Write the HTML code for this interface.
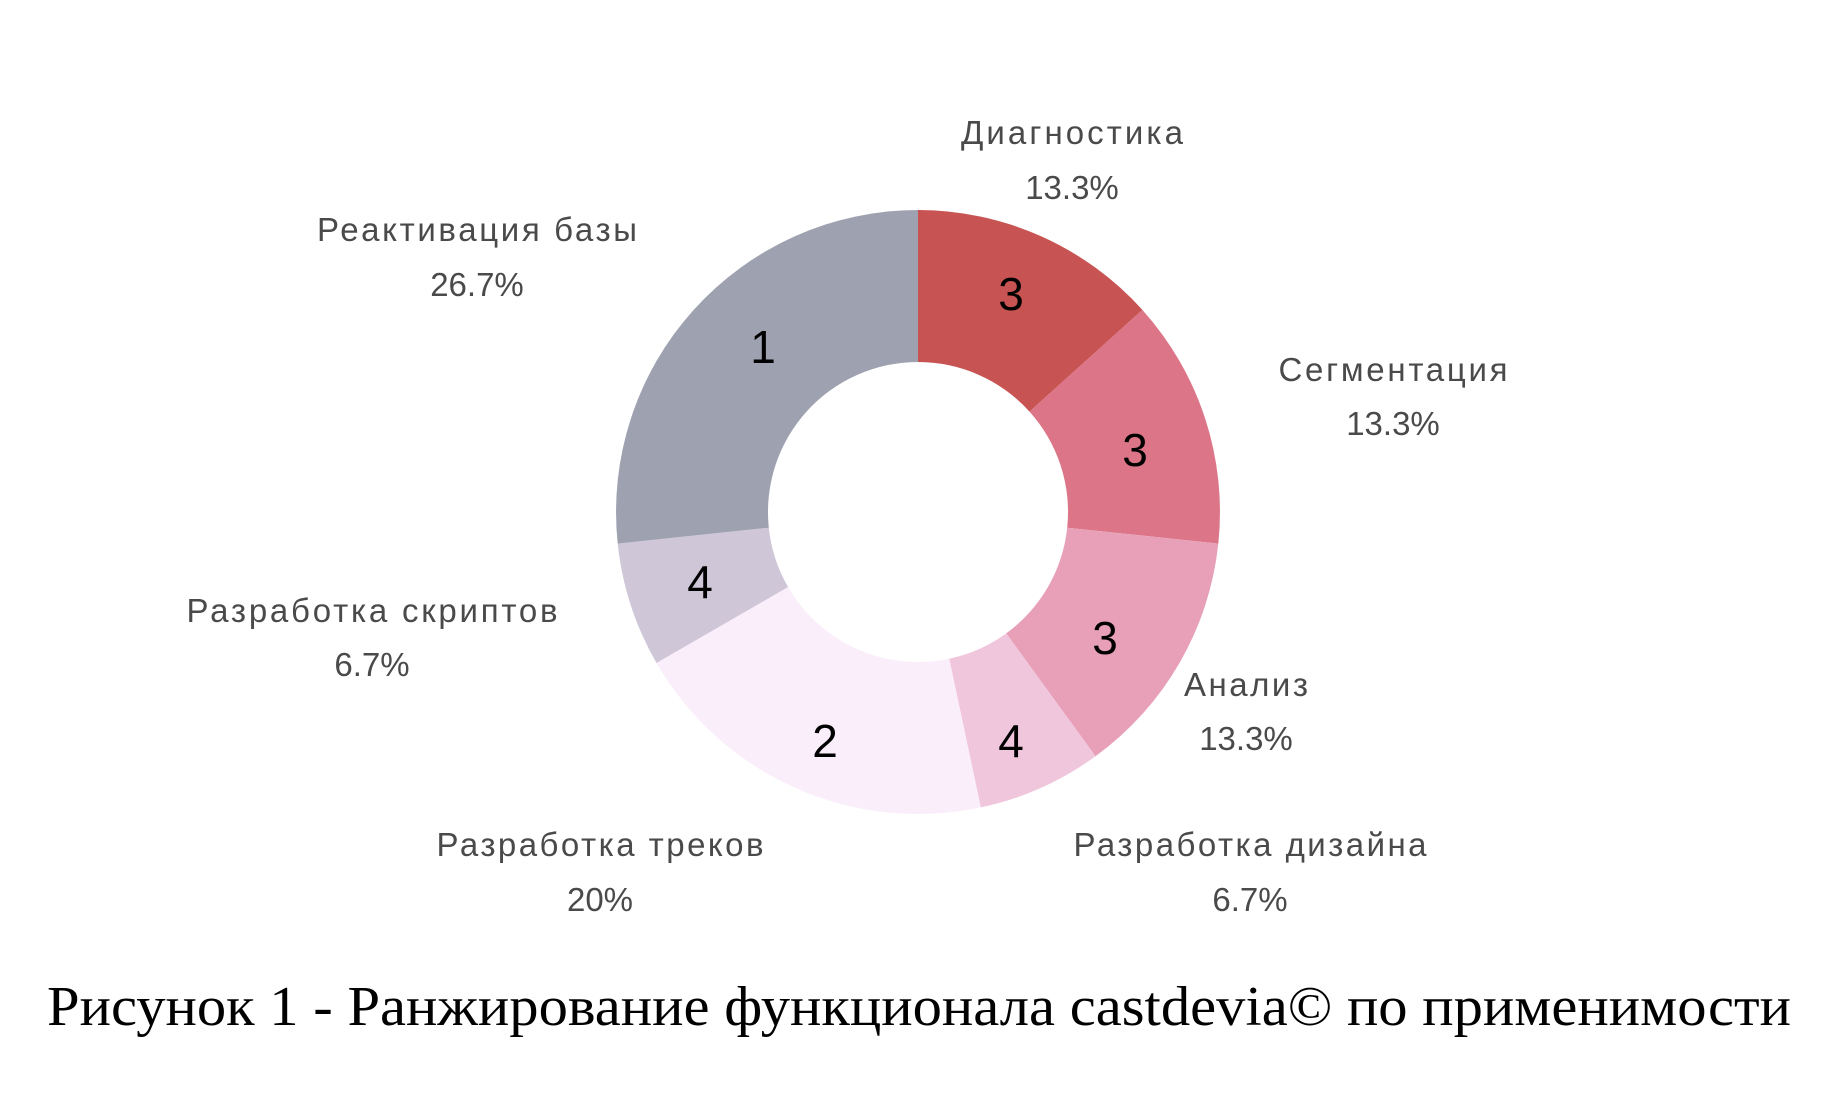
<!DOCTYPE html>
<html><head><meta charset="utf-8"><style>
html,body{margin:0;padding:0;background:#fff;}
svg{display:block;}
.l{font-family:"Liberation Sans","DejaVu Sans",sans-serif;font-size:33px;fill:#4a4a4a;text-anchor:middle;}
.n{font-family:"Liberation Sans",sans-serif;font-size:46px;fill:#000;text-anchor:middle;}
.c{font-family:"Liberation Serif","DejaVu Serif",serif;font-size:56px;fill:#000;}
</style></head><body>
<svg width="1833" height="1105" viewBox="0 0 1833 1105" xmlns="http://www.w3.org/2000/svg">
<rect width="1833" height="1105" fill="#fff"/>
<path d="M918,210 A302,302 0 0 1 1142.4,309.9 L1029.5,411.6 A150,150 0 0 0 918,362 Z" fill="#c85353"/>
<path d="M1142.4,309.9 A302,302 0 0 1 1218.3,543.6 L1067.2,527.7 A150,150 0 0 0 1029.5,411.6 Z" fill="#dc7587"/>
<path d="M1218.3,543.6 A302,302 0 0 1 1095.5,756.3 L1006.2,633.4 A150,150 0 0 0 1067.2,527.7 Z" fill="#e8a0b8"/>
<path d="M1095.5,756.3 A302,302 0 0 1 980.8,807.4 L949.2,658.7 A150,150 0 0 0 1006.2,633.4 Z" fill="#f0c6dd"/>
<path d="M980.8,807.4 A302,302 0 0 1 656.5,663 L788.1,587 A150,150 0 0 0 949.2,658.7 Z" fill="#fbeefb"/>
<path d="M656.5,663 A302,302 0 0 1 617.7,543.6 L768.8,527.7 A150,150 0 0 0 788.1,587 Z" fill="#cfc7d8"/>
<path d="M617.7,543.6 A302,302 0 0 1 918,210 L918,362 A150,150 0 0 0 768.8,527.7 Z" fill="#9ea1b0"/>

<text class="n" x="1011" y="310">3</text>
<text class="n" x="1135" y="466">3</text>
<text class="n" x="1105" y="654">3</text>
<text class="n" x="1011" y="757">4</text>
<text class="n" x="825" y="757">2</text>
<text class="n" x="700" y="598">4</text>
<text class="n" x="763" y="363">1</text>

<text class="l" x="1072" y="144" textLength="222">Диагностика</text>
<text class="l" x="1072" y="199">13.3%</text>
<text class="l" x="477" y="241" textLength="320">Реактивация базы</text>
<text class="l" x="477" y="296">26.7%</text>
<text class="l" x="1393" y="381" textLength="229">Сегментация</text>
<text class="l" x="1393" y="435">13.3%</text>
<text class="l" x="372" y="622" textLength="371">Разработка скриптов</text>
<text class="l" x="372" y="676">6.7%</text>
<text class="l" x="1246" y="696" textLength="124">Анализ</text>
<text class="l" x="1246" y="750">13.3%</text>
<text class="l" x="600" y="856" textLength="327">Разработка треков</text>
<text class="l" x="600" y="911">20%</text>
<text class="l" x="1250" y="856" textLength="353">Разработка дизайна</text>
<text class="l" x="1250" y="911">6.7%</text>

<text class="c" x="47" y="1025" textLength="1744" lengthAdjust="spacingAndGlyphs">Рисунок 1 - Ранжирование функционала castdevia© по  применимости</text>
</svg>
</body></html>
